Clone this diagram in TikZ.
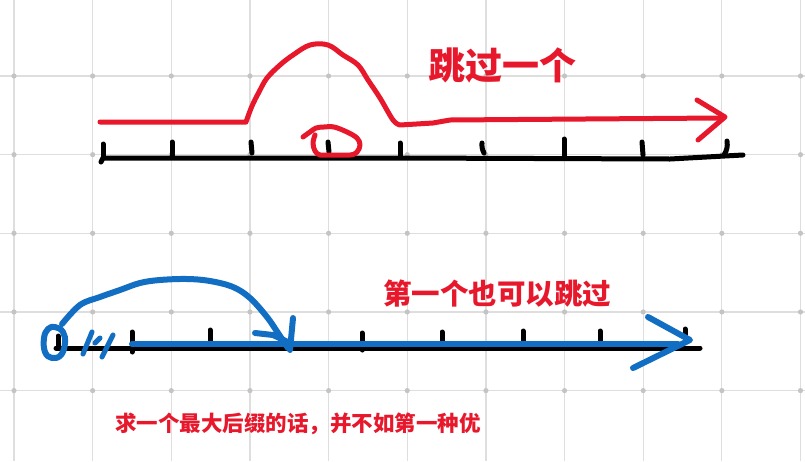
\documentclass[tikz,border=0pt]{standalone}
\usepackage{fontspec}
\newfontfamily\cjk{Noto Sans CJK SC}
\definecolor{penred}{RGB}{232,24,44}
\definecolor{penblue}{RGB}{18,110,194}
\definecolor{gridgray}{RGB}{222,222,222}
\definecolor{dotgray}{RGB}{196,196,196}
\tikzset{
  gridline/.style={draw=gridgray, line width=1.2pt},
  griddot/.style={fill=dotgray},
  axisline/.style={draw=black, line width=5pt, line cap=round, line join=round},
  tickmark/.style={draw=black, line width=5pt, line cap=round},
  redpen/.style={draw=penred, line width=5pt, line cap=round, line join=round},
  bluepen/.style={draw=penblue, line width=6pt, line cap=round, line join=round},
  redlabel/.style={text=penred, inner sep=0pt, font=\cjk\bfseries}
}
\begin{document}
\begin{tikzpicture}[x=1pt,y=-1pt]
\useasboundingbox (0,0) rectangle (805,461);
\fill[white] (0,0) rectangle (805,461);
% grid
\foreach \i in {0,...,10} \draw[gridline] ({14+78.65*\i},0) -- ({14+78.65*\i},461);
\foreach \j in {0,...,4} \draw[gridline] (0,{76+78.65*\j}) -- (805,{76+78.65*\j});
\foreach \i in {0,...,10} \foreach \j in {0,...,4} \fill[griddot] ({14+78.65*\i},{76+78.65*\j}) circle (2.6pt);

% ===== top number line =====
\draw[axisline] (101,162) -- (103,158) -- (400,158) -- (670,159) -- (743,155);
\draw[tickmark] (103,158) -- (103,144);
\draw[tickmark] (172,157) -- (172,142);
\draw[tickmark] (252,153) -- (251,142);
\draw[tickmark] (329,152) -- (328,142);
\draw[tickmark] (400,157) -- (400,143);
\draw[tickmark] (484,153) to[bend left=15] (482,143);
\draw[tickmark] (564,157) -- (564,139);
\draw[tickmark] (643,155) -- (642,142);
\draw[tickmark] (724,155) to[bend right=20] (727,141);

% red jump path
\draw[redpen] (100,122) -- (246,122)
  plot[smooth, tension=0.6] coordinates {(246,122) (252,106) (259,92) (267,78) (280,65) (293,55) (310,45) (328,45) (343,55) (358,65) (368,80) (380,98) (393,120) (400,125)}
  -- (433,123) -- (450,120) -- (720,118);
\draw[redpen] (697,100) -- (725,117) -- (698,140);
% red small loop
\draw[redpen] plot[smooth, tension=0.6] coordinates {(303,137) (310,132) (316,128) (324,127) (334,127) (347,132) (357,138) (360,145) (357,152) (350,155) (330,155) (320,155) (315,151) (313,143) (315,135)};

\node[redlabel, font=\cjk\bfseries\fontsize{37}{40}\selectfont] (t1) at (502,65) {跳过一个};

% ===== bottom number line =====
\draw[axisline] (56,348) -- (700,348);
\draw[tickmark] (58,348) -- (58,336);
\draw[tickmark] (132,352) -- (132,332);
\draw[tickmark] (210,342) -- (210,330);
\draw[tickmark] (362,350) -- (362,333);
\draw[tickmark] (442,343) -- (442,332);
\draw[tickmark] (523,345) -- (523,331);
\draw[tickmark] (600,343) -- (600,331);
\draw[tickmark] (685,336) -- (685,329);

% blue
\draw[bluepen] (132,344) -- (678,344);
\draw[bluepen] (648,317) -- (690,340) -- (633,368);
\draw[bluepen] plot[smooth, tension=0.6] coordinates {(62,324) (80,305) (100,297) (120,290) (140,283) (160,280) (187,279) (210,281) (233,287) (250,298) (267,317) (278,333) (288,348)};
\draw[bluepen] (255,333) -- (273,335) -- (290,343);
\draw[bluepen] (293,318) -- (290,350);
\draw[bluepen] plot[smooth cycle, tension=0.7] coordinates {(55,327) (63,332) (65,343) (61,355) (52,358) (45,352) (44,338) (48,329)};
\draw[bluepen, line width=5pt] (83,354) -- (92,332);
\draw[bluepen, line width=5pt] (95,343) -- (100,338);
\draw[bluepen, line width=5pt] (102,357) -- (113,335);

\node[redlabel, font=\cjk\bfseries\fontsize{28.5}{32}\selectfont] (t2) at (497,294) {第一个也可以跳过};
\node[redlabel, font=\cjk\bfseries\fontsize{21.5}{24}\selectfont] (t3) at (298,424) {求一个最大后缀的话，并不如第一种优};
\end{tikzpicture}
\end{document}
